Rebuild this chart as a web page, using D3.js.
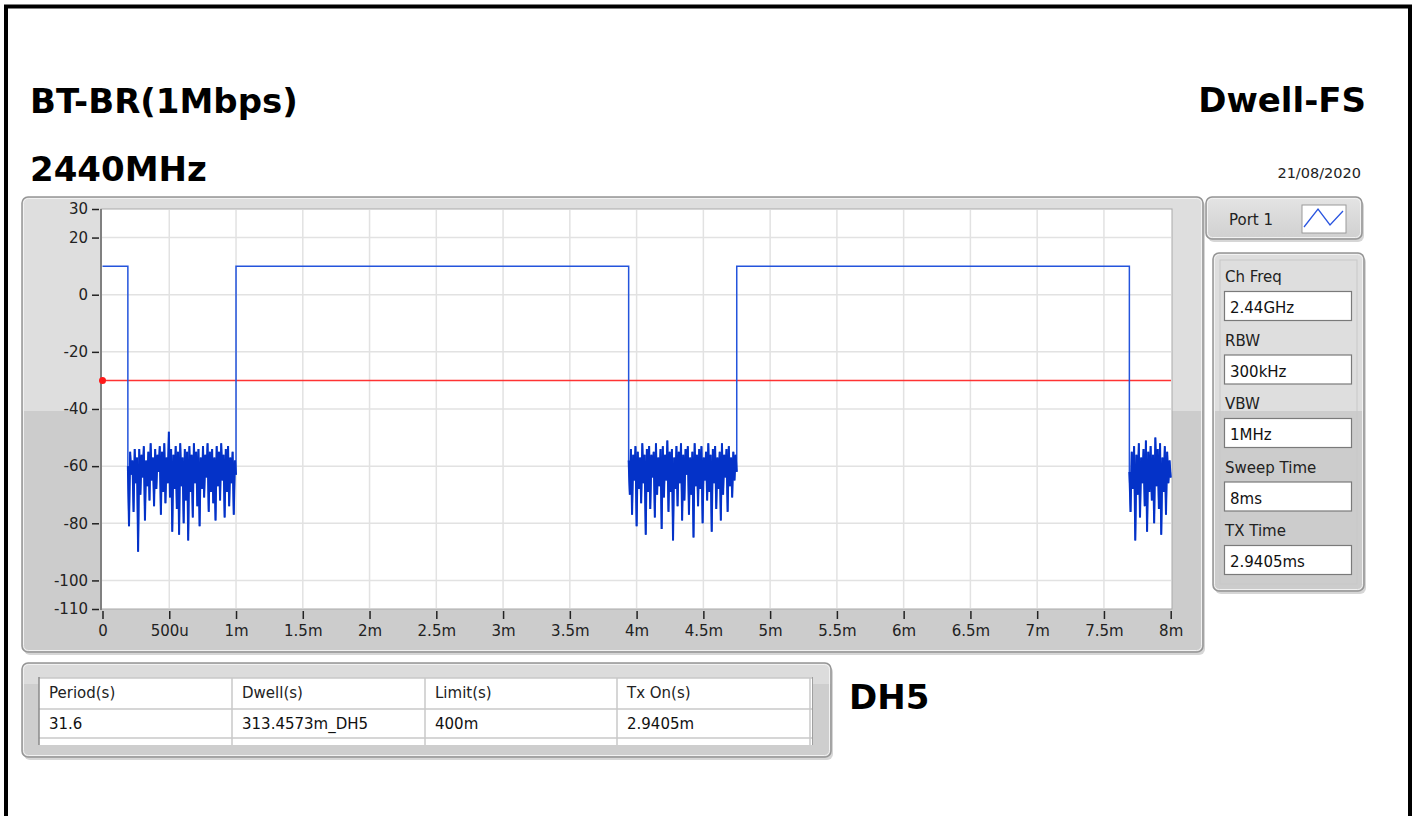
<!DOCTYPE html>
<html>
<head>
<meta charset="utf-8">
<script src="https://cdn.jsdelivr.net/npm/d3@7"></script>
<style>
  body { margin: 0; background: #fff; }
  text { font-family: "DejaVu Sans", Verdana, sans-serif; }
</style>
</head>
<body>
<svg id="chart" width="1415" height="816"></svg>
<script>
// ---- Sweep data (time in ms, level in dBm) ----
const xTickValues = [0, 0.5, 1, 1.5, 2, 2.5, 3, 3.5, 4, 4.5, 5, 5.5, 6, 6.5, 7, 7.5, 8];
const xTickLabels = ["0", "500u", "1m", "1.5m", "2m", "2.5m", "3m", "3.5m", "4m", "4.5m", "5m", "5.5m", "6m", "6.5m", "7m", "7.5m", "8m"];
const yTickValues = [30, 20, 0, -20, -40, -60, -80, -100, -110];

const txLevel = 10;          // burst level
const limitLevel = -30;      // trigger / limit line
const burstOn  = [0, 1.0, 4.75];
const burstOff = [0.19, 3.9405, 7.6905];

// noise floor between bursts
const floorStart = [0.19, 3.9405, 7.6905];
const floorEnd   = [1.0, 4.75, 8.0];
const noiseA = [
  -60,-81,-55,-63,-58,-76,-54,-66,-57,-90,
  -54,-70,-56,-64,-53,-79,-58,-67,-55,-72,
  -52,-65,-57,-74,-54,-68,-56,-62,-53,-77,
  -55,-69,-52,-73,-57,-66,-48,-71,-54,-83,
  -56,-68,-53,-75,-55,-84,-52,-67,-57,-80,
  -54,-72,-55,-86,-53,-69,-56,-78,-52,-66,
  -55,-74,-54,-81,-57,-68,-53,-71,-56,-64,
  -52,-76,-55,-69,-54,-73,-57,-79,-53,-67,
  -55,-72,-52,-65,-56,-78,-54,-69,-53,-74,
  -57,-66,-55,-77,-58,-63
];
const noiseB = [
  -58,-70,-54,-77,-56,-65,-53,-81,-55,-68,
  -57,-73,-52,-66,-56,-84,-54,-69,-53,-75,
  -56,-64,-55,-78,-52,-70,-57,-67,-54,-82,
  -53,-71,-56,-65,-51,-76,-55,-69,-54,-86,
  -57,-68,-53,-74,-55,-66,-52,-79,-56,-72,
  -54,-63,-53,-77,-57,-70,-55,-85,-52,-67,
  -56,-74,-54,-68,-53,-80,-57,-65,-55,-72,
  -52,-69,-56,-83,-54,-66,-53,-75,-57,-68,
  -55,-79,-52,-70,-56,-64,-54,-76,-53,-67,
  -57,-71,-55,-65,-56,-62
];
const noiseC = [
  -62,-76,-55,-68,-53,-86,-56,-70,-52,-78,
  -57,-66,-54,-74,-51,-83,-55,-69,-53,-72,
  -56,-80,-50,-67,-54,-75,-52,-84,-57,-69,
  -53,-77,-55,-66,-58,-64
];
const noiseSegments = [noiseA, noiseB, noiseC];

// ---- Header / settings text ----
const titleLeft = "BT-BR(1Mbps)";
const freqLabel = "2440MHz";
const titleRight = "Dwell-FS";
const dateLabel = "21/08/2020";
const modeLabel = "DH5";
const portLabel = "Port 1";
const settingNames  = ["Ch Freq", "RBW", "VBW", "Sweep Time", "TX Time"];
const settingValues = ["2.44GHz", "300kHz", "1MHz", "8ms", "2.9405ms"];
const tableHeaders = ["Period(s)", "Dwell(s)", "Limit(s)", "Tx On(s)"];
const tableValues  = ["31.6", "313.4573m_DH5", "400m", "2.9405m"];

// ---- Build trace ----
const trace = [];
const floorTraces = [];
burstOn.forEach((on, i) => {
  trace.push([on, txLevel], [burstOff[i], txLevel]);
  const vals = noiseSegments[i];
  const step = (floorEnd[i] - floorStart[i]) / (vals.length - 1);
  const seg = vals.map((v, j) => [floorStart[i] + j * step, v]);
  floorTraces.push(seg);
  seg.forEach(p => trace.push(p));
});

const svg = d3.select("#chart");
const defs = svg.append("defs");

// panel shading: lighter upper half, darker lower half
const g1 = defs.append("linearGradient").attr("id", "panelShade")
  .attr("gradientUnits", "userSpaceOnUse").attr("x1", 0).attr("y1", 0).attr("x2", 0).attr("y2", 816);
[[0, "#dedede"], [411 / 816, "#dedede"], [411 / 816, "#cccccc"], [1, "#cccccc"]]
  .forEach(([o, c]) => g1.append("stop").attr("offset", o).attr("stop-color", c));
const g2 = defs.append("linearGradient").attr("id", "tableShade")
  .attr("x1", 0).attr("y1", 0).attr("x2", 0).attr("y2", 1);
[[0, "#dcdcdc"], [0.22, "#dcdcdc"], [0.22, "#cecece"], [1, "#cecece"]]
  .forEach(([o, c]) => g2.append("stop").attr("offset", o).attr("stop-color", c));
const g3 = defs.append("linearGradient").attr("id", "portShade")
  .attr("x1", 0).attr("y1", 0).attr("x2", 0).attr("y2", 1);
[[0, "#e4e4e4"], [0.5, "#dadada"], [1, "#d0d0d0"]]
  .forEach(([o, c]) => g3.append("stop").attr("offset", o).attr("stop-color", c));

// page frame
svg.append("path").attr("d", "M6,820 V6.5 H1410 V820")
  .attr("fill", "none").attr("stroke", "#000").attr("stroke-width", 4);

// raised panel helper
function panel(x, y, w, h, fill) {
  svg.append("rect").attr("x", x + 2).attr("y", y + 3).attr("width", w).attr("height", h)
    .attr("rx", 6).attr("fill", "#c4c4c4").attr("opacity", 0.7);
  svg.append("rect").attr("x", x).attr("y", y).attr("width", w).attr("height", h)
    .attr("rx", 6).attr("fill", fill).attr("stroke", "#959595").attr("stroke-width", 1.5);
  svg.append("rect").attr("x", x + 1.5).attr("y", y + 1.5).attr("width", w - 3).attr("height", h - 3)
    .attr("rx", 5).attr("fill", "none").attr("stroke", "#f2f2f2").attr("stroke-width", 1);
}

// titles
svg.append("text").attr("x", 30).attr("y", 113).attr("font-size", 34).attr("font-weight", "bold")
  .attr("fill", "#000").text(titleLeft);
svg.append("text").attr("x", 30).attr("y", 181).attr("font-size", 34).attr("font-weight", "bold")
  .attr("fill", "#000").text(freqLabel);
svg.append("text").attr("x", 1366).attr("y", 112).attr("font-size", 34).attr("font-weight", "bold")
  .attr("text-anchor", "end").attr("fill", "#000").text(titleRight);
svg.append("text").attr("x", 1361).attr("y", 178).attr("font-size", 14.5)
  .attr("text-anchor", "end").attr("fill", "#222").text(dateLabel);

// ---- Main graph panel ----
panel(22, 197, 1181, 455, "url(#panelShade)");

const plotL = 101, plotR = 1172, plotT = 209, plotB = 609;
const x = d3.scaleLinear().domain([0, 8]).range([102.5, 1170.7]);
const y = d3.scaleLinear().domain([-110, 30]).range([plotB, plotT]);

svg.append("rect").attr("x", plotL).attr("y", plotT).attr("width", plotR - plotL).attr("height", plotB - plotT)
  .attr("fill", "#fff").attr("stroke", "#a9a9a9").attr("stroke-width", 1);

// grid
const grid = svg.append("g").attr("stroke", "#e2e2e2").attr("stroke-width", 1.5);
grid.selectAll("line.v").data(xTickValues.filter(v => v > 0 && v < 8)).join("line")
  .attr("x1", d => x(d)).attr("x2", d => x(d)).attr("y1", plotT + 1).attr("y2", plotB - 1);
grid.selectAll("line.h").data(yTickValues.filter(v => v < 30 && v > -110)).join("line")
  .attr("y1", d => y(d)).attr("y2", d => y(d)).attr("x1", plotL + 1).attr("x2", plotR - 1);

// axes
const yAxis = d3.axisLeft(y).tickValues(yTickValues).tickSize(7).tickPadding(4).tickFormat(d => String(d));
const gy = svg.append("g").attr("transform", `translate(${plotL - 2},0)`).call(yAxis);
gy.select(".domain").remove();
gy.selectAll(".tick line").attr("stroke", "#222").attr("stroke-width", 1.5);
gy.selectAll(".tick text").attr("font-size", 15).attr("fill", "#222")
  .attr("font-family", "DejaVu Sans, sans-serif");

const xAxis = d3.axisBottom(x).tickValues(xTickValues).tickSize(8).tickPadding(6)
  .tickFormat((d, i) => xTickLabels[i]);
const gx = svg.append("g").attr("transform", `translate(0,${plotB + 2})`).call(xAxis);
gx.select(".domain").remove();
gx.selectAll(".tick line").attr("stroke", "#222").attr("stroke-width", 1.5);
gx.selectAll(".tick text").attr("font-size", 15).attr("fill", "#222")
  .attr("font-family", "DejaVu Sans, sans-serif");

// left axis rail
svg.append("line").attr("x1", plotL).attr("x2", plotL).attr("y1", plotT).attr("y2", plotB + 1)
  .attr("stroke", "#808080").attr("stroke-width", 2);

// limit line
svg.append("line").attr("x1", x(0)).attr("x2", plotR - 1).attr("y1", y(limitLevel)).attr("y2", y(limitLevel))
  .attr("stroke", "#ff3333").attr("stroke-width", 1.6);
svg.append("circle").attr("cx", x(0)).attr("cy", y(limitLevel)).attr("r", 3.5).attr("fill", "#ff1a1a");

// trace
const line = d3.line().x(d => x(d[0])).y(d => y(d[1]));
svg.append("path").datum(trace).attr("d", line)
  .attr("fill", "none").attr("stroke", "#2454dc").attr("stroke-width", 1.5)
  .attr("stroke-linejoin", "miter");
// dense noise floor drawn a bit heavier so the band reads as solid
svg.selectAll("path.floor").data(floorTraces).join("path").attr("class", "floor")
  .attr("d", line).attr("fill", "none").attr("stroke", "#0432c8").attr("stroke-width", 2)
  .attr("stroke-linejoin", "bevel");

// ---- Port selector ----
panel(1206, 197, 156, 42, "url(#portShade)");
svg.append("text").attr("x", 1229).attr("y", 225).attr("font-size", 15).attr("fill", "#222").text(portLabel);
svg.append("rect").attr("x", 1302).attr("y", 205).attr("width", 44).attr("height", 28)
  .attr("fill", "#fff").attr("stroke", "#9a9a9a");
svg.append("polyline").attr("points", "1304,227 1318,209 1330,225 1343,211")
  .attr("fill", "none").attr("stroke", "#2a55e0").attr("stroke-width", 1.3);

// ---- Settings panel ----
panel(1213, 253, 151, 338, "url(#panelShade)");
svg.append("rect").attr("x", 1220).attr("y", 260).attr("width", 137).attr("height", 324)
  .attr("fill", "none").attr("stroke", "#c8c8c8").attr("stroke-width", 1);
settingNames.forEach((name, i) => {
  const top = 253 + i * 63.5;
  svg.append("text").attr("x", 1225).attr("y", top + 29).attr("font-size", 15).attr("fill", "#222").text(name);
  svg.append("rect").attr("x", 1224.5).attr("y", top + 38.5).attr("width", 127).attr("height", 29)
    .attr("fill", "#fff").attr("stroke", "#7a7a7a").attr("stroke-width", 1.2);
  svg.append("text").attr("x", 1230).attr("y", top + 60).attr("font-size", 15).attr("fill", "#111")
    .text(settingValues[i]);
});

// ---- Results table ----
panel(22, 663, 809, 94, "url(#tableShade)");
const colX = [39, 232, 425, 617, 810];
svg.append("rect").attr("x", 39).attr("y", 678).attr("width", 773).attr("height", 67).attr("fill", "#fff");
const tg = svg.append("g").attr("stroke", "#c9c9c9").attr("stroke-width", 1.5);
[678, 709, 738].forEach(yy => tg.append("line").attr("x1", 39).attr("x2", 812).attr("y1", yy).attr("y2", yy));
colX.slice(1).forEach(xx => tg.append("line").attr("x1", xx).attr("x2", xx).attr("y1", 678).attr("y2", 745));
svg.append("line").attr("x1", 39).attr("x2", 39).attr("y1", 677).attr("y2", 745)
  .attr("stroke", "#8a8a8a").attr("stroke-width", 1.5);
svg.append("line").attr("x1", 812.5).attr("x2", 812.5).attr("y1", 677).attr("y2", 745)
  .attr("stroke", "#a0a0a0").attr("stroke-width", 1);
tableHeaders.forEach((h, i) => {
  svg.append("text").attr("x", colX[i] + 10).attr("y", 698).attr("font-size", 15).attr("fill", "#222").text(h);
  svg.append("text").attr("x", colX[i] + 10).attr("y", 729).attr("font-size", 15).attr("fill", "#111").text(tableValues[i]);
});
svg.append("text").attr("x", 849).attr("y", 709).attr("font-size", 34).attr("font-weight", "bold")
  .attr("fill", "#000").text(modeLabel);
</script>
</body>
</html>
